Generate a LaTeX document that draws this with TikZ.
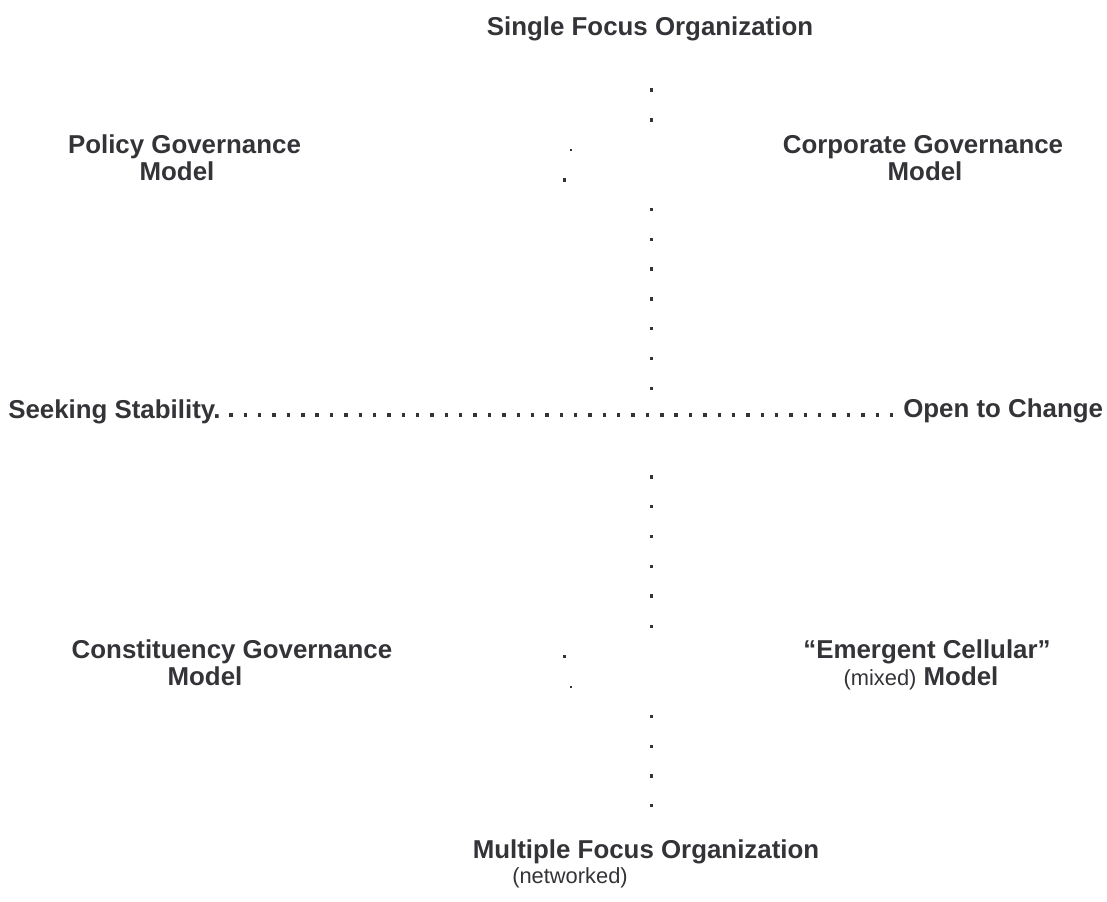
\documentclass[tikz,border=0pt]{standalone}
\usepackage{fontspec}
\setmainfont{Liberation Sans}
\definecolor{ink}{RGB}{51,51,56}
\newcommand\bfnt{\fontsize{19.4}{18}\selectfont\bfseries}
\newcommand\rgfnt{\fontsize{16.4}{18}\selectfont\mdseries}
\begin{document}
\begin{tikzpicture}[x=0.75pt,y=-0.75pt,
  lbl/.style={font=\bfnt, text=ink, inner sep=0pt, anchor=base},
  lblw/.style={lbl, anchor=base west},
  bigdot/.style={fill=ink},
  axisline/.style={draw=ink, line width=2.55pt, dash pattern=on 2.55pt off 8.22pt}]
\useasboundingbox (0,0) rectangle (1107,901);
% top / bottom labels
\node[lbl] (single) at (650,35) {Single Focus Organization};
\node[lbl] (multi) at (646,858) {Multiple Focus Organization};
\node[lbl, font=\rgfnt] (netw) at (570,883) {(networked)};
% quadrant labels
\node[lbl] (pol1) at (184.5,153) {Policy Governance};
\node[lbl] (pol2) at (177,180) {Model};
\node[lbl] (cor1) at (923,153) {Corporate Governance};
\node[lbl] (cor2) at (925,180) {Model};
\node[lbl] (con1) at (232,658) {Constituency Governance};
\node[lbl] (con2) at (205,685) {Model};
\node[lbl] (emg1) at (927,658) {``Emergent Cellular''};
\node[lbl] (emg2) at (921,685) {{\rgfnt(mixed)} Model};
% horizontal axis
\node[lblw] (stab) at (8,418) {Seeking Stability.};
\node[lblw] (open) at (903,417) {Open to Change};
\coordinate (hl) at (229.3,415);
\coordinate (hr) at (893.4,415);
\draw[axisline] (hl) -- (hr);
% vertical axis dots
\foreach \yy in {90,120,209.5,239.3,269.1,298.9,328.7,358.5,388.3,477,506.7,536.5,566.3,596.1,626.7,716.7,746.3,776,805.5}
  \fill[bigdot] (651.7-1.7,\yy-1.7) rectangle ++(3.4,3.4);
% displaced dots
\fill[bigdot] (564.3-1.7,180-1.7) rectangle ++(3.4,3.4);
\fill[bigdot] (564.3-1.7,656.7-1.7) rectangle ++(3.4,3.4);
\fill[bigdot] (571-1,150-1) rectangle ++(2,2);
\fill[bigdot] (571-1,687.3-1) rectangle ++(2,2);
\end{tikzpicture}
\end{document}
